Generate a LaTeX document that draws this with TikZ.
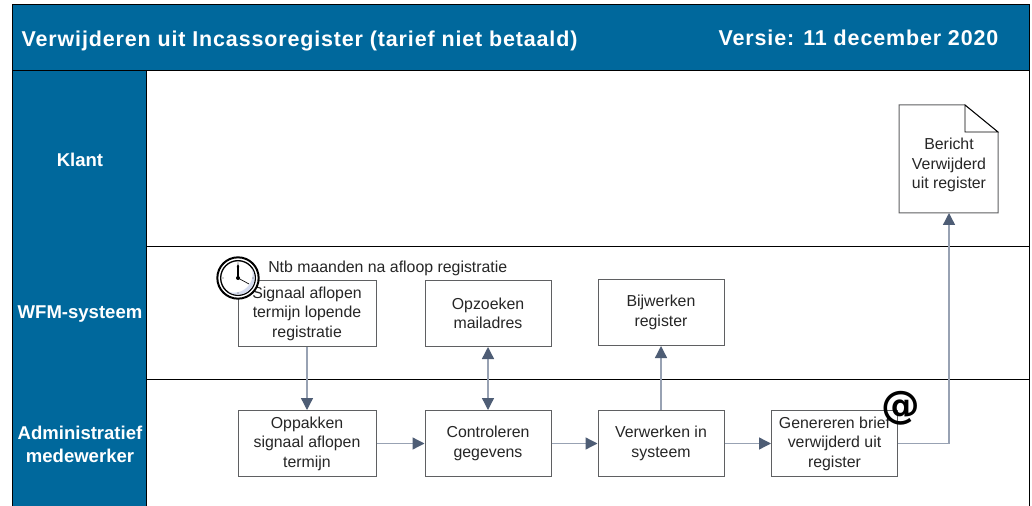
\documentclass[tikz,border=0pt]{standalone}
\usepackage{fontspec}
\setmainfont{Liberation Sans}
\newfontfamily\titlefont[LetterSpace=4,Ligatures=NoCommon]{Liberation Sans Bold}
\newfontfamily\atfont{DejaVu Sans Bold}
\usetikzlibrary{arrows.meta}
\definecolor{band}{HTML}{00689C}
\definecolor{edgegray}{HTML}{5F6062}
\definecolor{linegray}{HTML}{98A2B3}
\definecolor{headgray}{HTML}{4E5D75}
\definecolor{clockshade}{HTML}{D5DCF0}
\newcommand{\bodyfont}{\fontsize{11.9}{14.6}\selectfont}
\tikzset{
  x=0.75pt,y=-0.75pt,
  task/.style={draw=edgegray,line width=0.75pt,fill=white,minimum width=94.5pt,minimum height=49.5pt,inner sep=0pt,align=center,font=\bodyfont,text=black!85},
  wide/.style={task,minimum width=103.5pt},
  conn/.style={draw=linegray,line width=1pt,-{Triangle[fill=headgray,color=headgray,length=9pt,width=9pt]}},
  both/.style={conn,{Triangle[fill=headgray,color=headgray,length=9pt,width=9pt]}-{Triangle[fill=headgray,color=headgray,length=9pt,width=9pt]}},
  lanelabel/.style={text=white,align=center,font=\bfseries\fontsize{13.9}{17.5}\selectfont},
  laneline/.style={draw=black,line width=0.75pt},
  titletext/.style={text=white,anchor=west,font=\titlefont\fontsize{16.1}{18}\selectfont},
  tasklabel/.style={inner sep=0pt,align=center,font=\bodyfont,text=black!85},
}
\begin{document}
\begin{tikzpicture}
\useasboundingbox (0,0) rectangle (1032,506);
\fill[white] (0,0) rectangle (1032,506);
\fill[band] (12,5) rectangle (1029,71);
\fill[band] (12,71) rectangle (146,506);
\draw[laneline] (146,247) -- (1029,247);
\draw[laneline] (146,379) -- (1029,379);
\draw[laneline] (12,506) -- (12,5) -- (1029,5) -- (1029,506);
\draw[laneline] (12,71) -- (1029,71);
\draw[laneline] (146,71) -- (146,506);
\node[titletext] (title) at (17,40.5) {Verwijderen uit Incassoregister (tarief niet betaald)};
\node[titletext] (version) at (714,38) {Versie: 11 december 2020};
\node[lanelabel] (klant) at (80,160) {Klant};
\node[lanelabel] (wfm) at (80,314) {WFM-systeem};
\node[lanelabel] (adm) at (80,444.5) {Administratief\\medewerker};

\node[wide] (signaal) at (307,313.5) {Signaal aflopen\\termijn lopende\\registratie};
\node[task] (opzoeken) at (488,313.5) {Opzoeken\\mailadres};
\node[task] (bijwerken) at (661,312.5) {Bijwerken\\register};
\node[wide] (oppakken) at (307,443.5) {Oppakken\\signaal aflopen\\termijn};
\node[task] (controleren) at (488,443.5) {Controleren\\gegevens};
\node[task] (verwerken) at (661,443.5) {Verwerken in\\systeem};
\node[task] (genereren) at (834.5,443.5) {Genereren brief\\verwijderd uit\\register};

\draw[draw=edgegray,line width=0.75pt,fill=white] (899,105) -- (965,105) -- (998,132) -- (998,213) -- (899,213) -- cycle;
\draw[draw=black,line width=0.6pt] (965,105) -- (965,132) -- (998,132) -- cycle;
\node[tasklabel] (bericht) at (949,165) {Bericht\\Verwijderd\\uit register};
\coordinate (berichtin) at (949,213);

\draw[conn] (signaal.south) -- (oppakken.north);
\draw[both] (opzoeken.south) -- (controleren.north);
\draw[conn] (verwerken.north) -- (bijwerken.south);
\draw[conn] (oppakken.east) -- (controleren.west);
\draw[conn] (controleren.east) -- (verwerken.west);
\draw[conn] (verwerken.east) -- (genereren.west);
\draw[conn] (genereren.east) -| (berichtin);

\node[anchor=west,inner sep=0pt,font=\bodyfont,text=black!85] (ntb) at (268,268) {Ntb maanden na afloop registratie};

% clock event
\coordinate (clk) at (238,278);
\draw[black,line width=1.5pt,fill=white] (clk) circle (15.5pt);
\draw[black,line width=1pt,fill=white] (clk) circle (13pt);
\begin{scope}
\clip (clk) circle (12.5pt);
\fill[clockshade,even odd rule] (clk) circle (13pt) (234,274) circle (14pt);
\end{scope}
\draw[black,line width=0.8pt,-{Latex[length=3pt,width=2pt]}] (clk) -- (238,263);
\draw[black,line width=0.5pt] (clk) -- (249,284);
\fill[black] (clk) circle (1.5pt);
\foreach \a in {0,90,180,270}{\fill[black!70] (clk) ++(\a:15) circle (0.5pt);}

\node[inner sep=0pt,font=\atfont\fontsize{29}{29}\selectfont] (at) at (901,408) {@};
\end{tikzpicture}
\end{document}
